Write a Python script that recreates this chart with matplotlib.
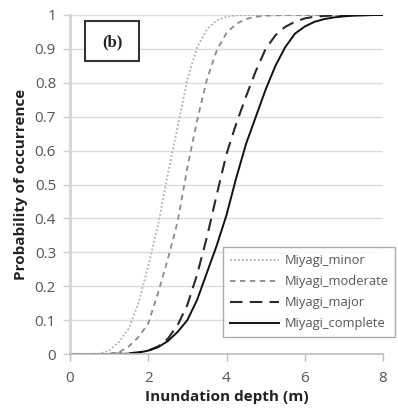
import matplotlib
matplotlib.use("Agg")
import matplotlib.pyplot as plt
from matplotlib.patches import Rectangle

# depth grid (m)
depth = [0, 0.25, 0.5, 0.75, 1.0, 1.25, 1.5, 1.75, 2.0, 2.25, 2.5, 2.75, 3.0, 3.25,
         3.5, 3.75, 4.0, 4.25, 4.5, 4.75, 5.0, 5.25, 5.5, 5.75, 6.0, 6.25, 6.5,
         6.75, 7.0, 7.25, 7.5, 7.75, 8.0]

p_minor = [0, 0, 0, 0.001, 0.01, 0.035, 0.075, 0.15, 0.26, 0.38, 0.53, 0.67, 0.81, 0.905,
           0.958, 0.984, 0.995, 0.999, 1, 1, 1, 1, 1, 1, 1, 1, 1,
           1, 1, 1, 1, 1, 1]
p_moderate = [0, 0, 0, 0, 0.001, 0.005, 0.022, 0.05, 0.09, 0.18, 0.28, 0.39, 0.55, 0.69,
              0.81, 0.895, 0.947, 0.974, 0.988, 0.995, 0.998, 0.999, 1, 1, 1, 1, 1,
              1, 1, 1, 1, 1, 1]
p_major = [0, 0, 0, 0, 0, 0.001, 0.002, 0.005, 0.01, 0.022, 0.045, 0.085, 0.145, 0.235,
           0.345, 0.47, 0.59, 0.68, 0.76, 0.835, 0.9, 0.94, 0.965, 0.98, 0.99, 0.995, 0.997,
           0.999, 1, 1, 1, 1, 1]
p_complete = [0, 0, 0, 0, 0, 0, 0.001, 0.004, 0.01, 0.02, 0.038, 0.065, 0.1, 0.16,
              0.24, 0.32, 0.41, 0.52, 0.62, 0.7, 0.78, 0.85, 0.905, 0.945, 0.966, 0.98, 0.988,
              0.993, 0.996, 0.998, 0.999, 1, 1]

labels = ["Miyagi_minor", "Miyagi_moderate", "Miyagi_major", "Miyagi_complete"]
xticks = [0, 2, 4, 6, 8]
yticks = [0, 0.1, 0.2, 0.3, 0.4, 0.5, 0.6, 0.7, 0.8, 0.9, 1]
ytick_labels = ["0", "0.1", "0.2", "0.3", "0.4", "0.5", "0.6", "0.7", "0.8", "0.9", "1"]

plt.rcParams['font.family'] = ['Open Sans', 'DejaVu Sans']

W, H = 398, 413
fig = plt.figure(figsize=(W / 100, H / 100), dpi=100)
ax = fig.add_axes([70 / W, 1 - 354 / H, (383 - 70) / W, (354 - 15) / H])

ax.plot(depth, p_minor, color="#b0b0b0", lw=1.3, linestyle=(0, (1.0, 1.2)), label=labels[0])
ax.plot(depth, p_moderate, color="#8a8a8a", lw=1.3, linestyle=(0, (3, 2.5)), label=labels[1])
ax.plot(depth, p_major, color="#2a2a2a", lw=1.5, linestyle=(0, (6, 3.5)), label=labels[2])
ax.plot(depth, p_complete, color="#111111", lw=1.4, linestyle="-", label=labels[3])

ax.set_xlim(0, 8)
ax.set_ylim(0, 1)
ax.set_xticks(xticks)
ax.set_xticklabels([str(t) for t in xticks])
ax.set_yticks(yticks)
ax.set_yticklabels(ytick_labels)
ax.yaxis.grid(True, color="#dcdcdc", lw=1.0)
ax.set_axisbelow(True)
for s in ["top", "right"]:
    ax.spines[s].set_visible(False)
ax.spines["left"].set_color("#d4d4d4")
ax.spines["left"].set_linewidth(2.0)
ax.spines["bottom"].set_color("#bdbdbd")
ax.spines["bottom"].set_linewidth(1.2)
ax.tick_params(axis="y", length=5, width=1, color="#cfcfcf", labelsize=11,
               labelcolor="#555555", pad=5)
ax.tick_params(axis="x", length=5, width=1, color="#bdbdbd", labelsize=11,
               labelcolor="#555555", pad=7)

ax.set_xlabel("Inundation depth (m)", fontsize=11, fontweight="bold", color="#222222", labelpad=3)
ax.set_ylabel("Probability of occurrence", fontsize=11, fontweight="bold", color="#222222", labelpad=5)

# (b) box
fig.patches.append(Rectangle((85 / W, 1 - 61 / H), 54 / W, 40 / H, transform=fig.transFigure,
                             facecolor="white", edgecolor="#333333", lw=1.5))
fig.text(112 / W, 1 - 42 / H, "(b)", family="Liberation Serif", fontweight="bold",
         fontsize=12, ha="center", va="center", color="#222222")

leg = ax.legend(loc="upper left", bbox_to_anchor=(223 / W, 1 - 247 / H),
                bbox_transform=fig.transFigure, fontsize=9.3, frameon=True, fancybox=False,
                edgecolor="#999999", handlelength=3.8, labelspacing=0.62, borderpad=0.55,
                handletextpad=0.4, borderaxespad=0)
leg.get_frame().set_linewidth(1.0)
for t in leg.get_texts():
    t.set_color("#555555")

fig.savefig("out.png", dpi=100)
